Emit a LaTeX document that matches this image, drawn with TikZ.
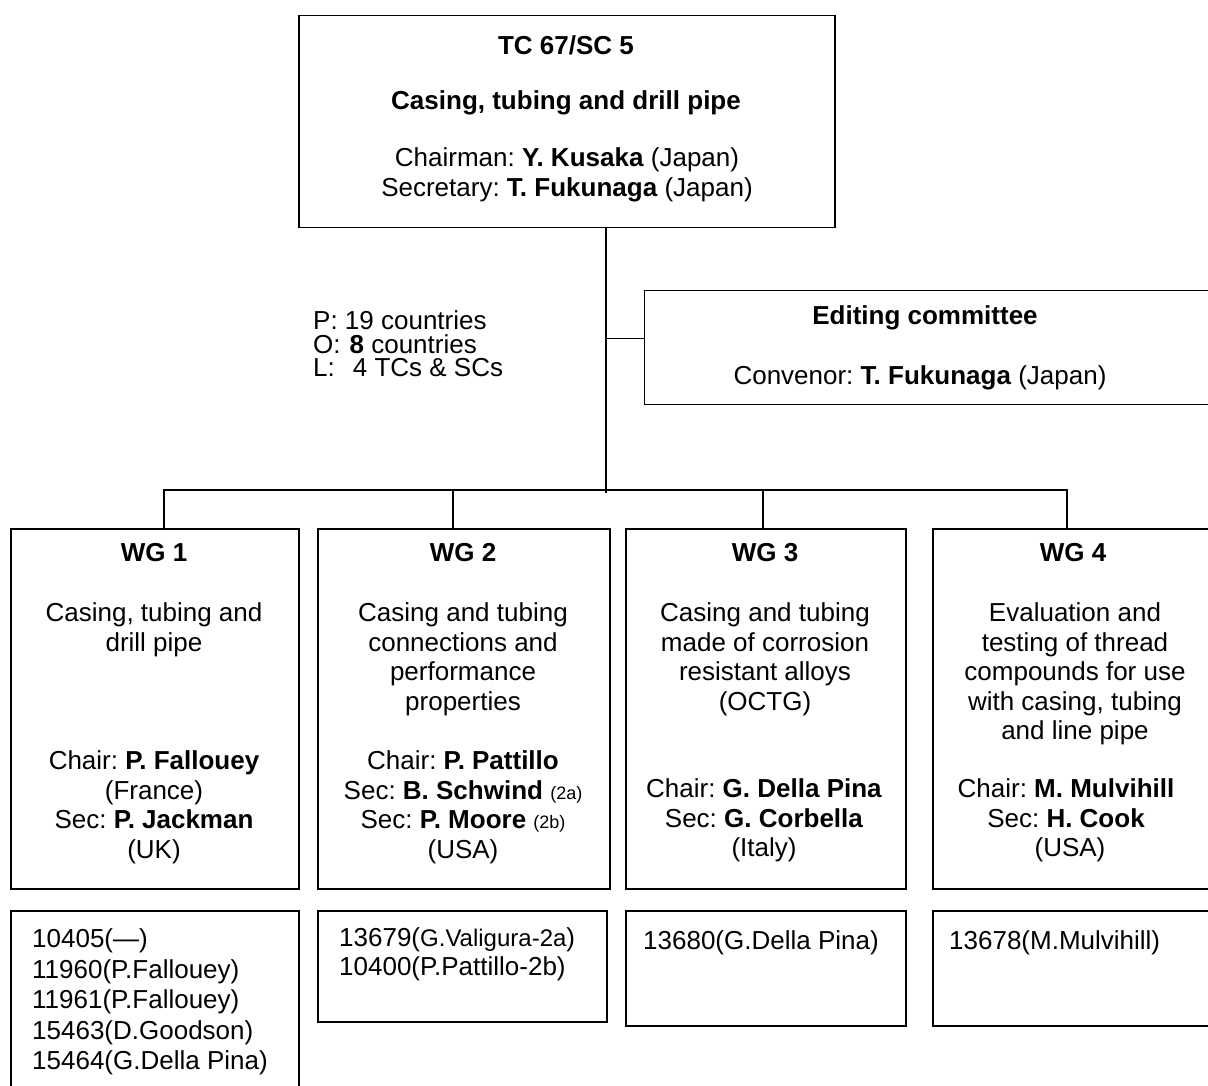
\documentclass[tikz,border=0pt]{standalone}
\usepackage{fontspec}
\setmainfont{Liberation Sans}
\usetikzlibrary{positioning}
\frenchspacing

\begin{document}
\begin{tikzpicture}[x=1pt, y=-1pt,
    box/.style={draw, line width=1.5pt, inner sep=0pt, anchor=north west},
    txt/.style={inner sep=0pt, align=center, anchor=north, font=\fontsize{26}{29.5}\selectfont},
    doc/.style={inner sep=0pt, align=left, anchor=north west, font=\fontsize{26}{30.5}\selectfont},
    link/.style={line width=1.3pt}]
    \useasboundingbox (0,0) rectangle (1208,1086);
    \clip (0,0) rectangle (1208,1086);

    \node[box, minimum width=536pt, minimum height=212pt] (TC) at (298,15) {};
    \node[box, line width=1.2pt, minimum width=580pt, minimum height=114pt] (ED) at (644,290) {};
    \node[box, minimum width=288pt, minimum height=360pt] (WG1) at (10,528) {};
    \node[box, minimum width=292pt, minimum height=360pt] (WG2) at (317,528) {};
    \node[box, minimum width=280pt, minimum height=360pt] (WG3) at (625,528) {};
    \node[box, minimum width=290pt, minimum height=360pt] (WG4) at (932,528) {};
    \node[box, minimum width=288pt, minimum height=200pt] (D1) at (10,910) {};
    \node[box, minimum width=289pt, minimum height=111pt] (D2) at (317,910) {};
    \node[box, minimum width=280pt, minimum height=115pt] (D3) at (625,910) {};
    \node[box, minimum width=290pt, minimum height=115pt] (D4) at (932,910) {};

    % TC 67/SC 5
    \node[txt] (TCtitle) at (566,35.5) {\textbf{TC 67/SC 5}};
    \node[txt] (TCname) at (566,90.5) {\textbf{Casing, tubing and drill pipe}};
    \node[txt, font=\fontsize{26}{30}\selectfont] (TCoff) at (567,147.5)
        {Chairman: \textbf{Y. Kusaka} (Japan)\\Secretary: \textbf{T. Fukunaga} (Japan)};
    \node[doc, font=\fontsize{26}{23.5}\selectfont] (members) at (313,310.5)
        {P: 19 countries\\O:\hspace{9pt}\textbf{8} countries\\L:\hspace{18pt}4 TCs \& SCs};
    \node[txt] (EDtitle) at (925,305.5) {\textbf{Editing committee}};
    \node[txt] (EDconv) at (920,365.5) {Convenor: \textbf{T. Fukunaga} (Japan)};

    % working groups
    \node[txt] (WG1title) at (154,543.5) {\textbf{WG 1}};
    \node[txt] (WG1desc) at (154,602.5) {Casing, tubing and\\drill pipe};
    \node[txt] (WG1off) at (154,750.5)
        {Chair: \textbf{P. Fallouey}\\(France)\\Sec: \textbf{P. Jackman}\\(UK)};
    \node[txt] (WG2title) at (463,543.5) {\textbf{WG 2}};
    \node[txt] (WG2desc) at (463,602.5)
        {Casing and tubing\\connections and\\performance\\properties};
    \node[txt] (WG2off) at (463,750.5)
        {Chair: \textbf{P. Pattillo}\\Sec: \textbf{B. Schwind} {\fontsize{18}{20}\selectfont(2a)}\\
         Sec: \textbf{P. Moore} {\fontsize{18}{20}\selectfont(2b)}\\(USA)};
    \node[txt] (WG3title) at (765,543.5) {\textbf{WG 3}};
    \node[txt] (WG3desc) at (765,602.5)
        {Casing and tubing\\made of corrosion\\resistant alloys\\(OCTG)};
    \node[txt] (WG3off) at (764,778.5)
        {Chair: \textbf{G. Della Pina}\\Sec: \textbf{G. Corbella}\\(Italy)};
    \node[txt] (WG4title) at (1073,543.5) {\textbf{WG 4}};
    \node[txt] (WG4desc) at (1075,602.5)
        {Evaluation and\\testing of thread\\compounds for use\\with casing, tubing\\and line pipe};
    \node[txt] (WG4off) at (1066,778.5)
        {Chair: \textbf{M. Mulvihill}\\Sec: \textbf{H. Cook}\hspace{18pt}\\\hspace{8pt}(USA)};

    % documents
    \node[doc] (D1list) at (32,928.5)
        {10405(\textemdash)\\11960(P.Fallouey)\\11961(P.Fallouey)\\15463(D.Goodson)\\15464(G.Della Pina)};
    \node[doc, font=\fontsize{26}{29}\selectfont] (D2list) at (339,927.5)
        {13679({\fontsize{24}{29}\selectfont G.Valigura-2a})\\10400(P.Pattillo-2b)};
    \node[doc] (D3list) at (643,930.5) {13680(G.Della Pina)};
    \node[doc] (D4list) at (949,930.5) {13678(M.Mulvihill)};

    % connectors
    \coordinate (hub) at (606,493);
    \coordinate (edlink) at (606,338);
    \coordinate (s1) at (164,490);
    \coordinate (s2) at (453,490);
    \coordinate (s3) at (763,490);
    \coordinate (s4) at (1067,490);
    \draw[link, line width=1.6pt] (TC.south -| hub) -- (hub);
    \draw[link, line width=1pt] (edlink) -- (edlink -| ED.west);
    \draw[link] (WG1.north -| s1) -- (s1) -- (s4) -- (WG4.north -| s4);
    \draw[link] (s2) -- (WG2.north -| s2);
    \draw[link] (s3) -- (WG3.north -| s3);
\end{tikzpicture}
\end{document}
